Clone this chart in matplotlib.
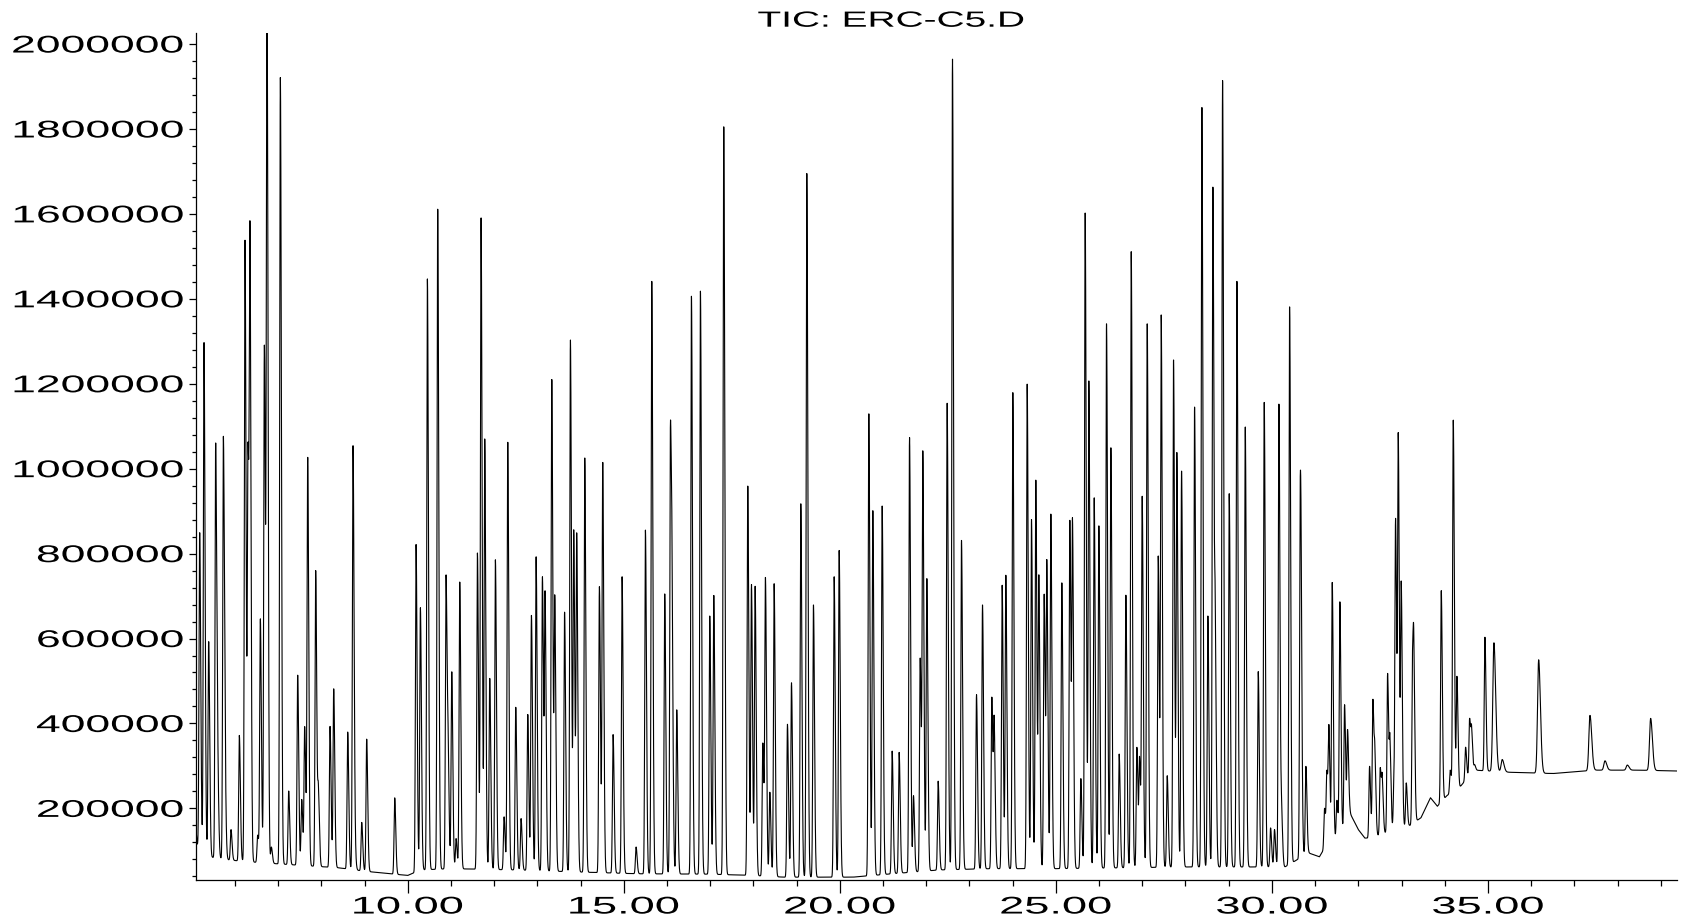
import numpy as np
import matplotlib
matplotlib.use("Agg")
import matplotlib.pyplot as plt
from matplotlib.patheffects import AbstractPathEffect
from matplotlib.transforms import Affine2D

# ---------------- data ----------------
title = "TIC: ERC-C5.D"

# retention time (min) of each peak apex
peak_time = [
    5.185, 5.216, 5.285, 5.393, 5.555, 5.601, 5.733, 5.771, 5.910, 6.103,
    6.234, 6.304, 6.350, 6.527, 6.589, 6.682, 6.743, 6.844, 7.052, 7.245,
    7.453, 7.546, 7.615, 7.685, 7.870, 7.932, 8.202, 8.287, 8.611, 8.734,
    8.780, 8.935, 9.050,
    9.699, 10.193, 10.293, 10.455, 10.694, 10.887, 10.934, 11.019, 11.119, 11.204,
    11.613, 11.697, 11.782, 11.898, 12.029, 12.230, 12.315, 12.500, 12.623, 12.778,
    12.863, 12.971, 13.117, 13.179, 13.334, 13.403, 13.630,
    13.765, 13.842, 13.911, 14.097, 14.436, 14.513, 14.753, 14.961, 15.285, 15.501,
    15.648, 15.948, 16.080, 16.118, 16.226, 16.566, 16.774, 16.990, 17.083, 17.314,
    17.870, 17.955,
    18.040, 18.218, 18.279, 18.380, 18.480, 18.788, 18.881, 19.097, 19.236, 19.390,
    19.869, 19.985, 20.671, 20.764, 20.980, 21.211, 21.373, 21.613, 21.705,
    21.860, 21.921, 22.014, 22.276,
    22.484, 22.607, 22.816, 23.163, 23.302, 23.518, 23.572, 23.757, 23.842, 24.004,
    24.336, 24.436, 24.536, 24.606, 24.729, 24.791, 24.884, 25.138, 25.323, 25.385,
    25.578, 25.678, 25.763, 25.887, 25.995, 26.172, 26.273, 26.465, 26.620,
    26.744, 26.875, 26.937, 26.998, 27.114, 27.369, 27.438, 27.577, 27.723, 27.800,
    27.909, 28.210, 28.379, 28.518, 28.634, 28.688, 28.858, 29.012, 29.190, 29.383,
    29.684, 29.822, 29.969, 30.060, 30.162, 30.223, 30.409, 30.656, 30.680, 30.787,
    31.218, 31.272, 31.319, 31.396, 31.504, 31.573, 31.681, 31.751, 32.260, 32.337,
    32.383, 32.507, 32.553, 32.677, 32.731, 32.823, 32.862, 32.924, 32.993, 33.109,
    33.255, 33.286, 33.919, 34.127, 34.197, 34.282, 34.482, 34.575, 34.621, 34.690,
    34.930, 35.138, 35.330, 36.173, 37.361, 37.708, 38.225, 38.765,
]

# apex abundance of each peak
peak_height = [
    850000, 300000, 1298000, 593000, 1061000, 425000, 1076000, 505000, 150000, 372000,
    1538000, 1063000, 1570000, 137000, 647000, 1291000, 2150000, 109000, 1921000, 241000,
    514000, 221000, 393000, 1028000, 760000, 258000, 393000, 482000, 380000, 1054000,
    245000, 167000, 363000,
    225000, 822000, 673000, 1448000, 1611000, 750000, 399000, 522000, 129000, 733000,
    802000, 1592000, 1070000, 506000, 786000, 180000, 1063000, 438000, 176000, 421000,
    655000, 793000, 746000, 711000, 1210000, 702000, 662000,
    1304000, 856000, 849000, 1026000, 722000, 1016000, 374000, 746000, 109000, 856000,
    1441000, 705000, 1111000, 808000, 432000, 1406000, 1418000, 653000, 702000, 1805000,
    959000, 728000,
    723000, 354000, 744000, 238000, 729000, 398000, 496000, 918000, 1695000, 679000,
    746000, 808000, 1130000, 901000, 912000, 335000, 332000, 1074000, 230000,
    554000, 1042000, 741000, 264000,
    1154000, 1966000, 831000, 468000, 679000, 462000, 416000, 726000, 749000, 1179000,
    1199000, 880000, 973000, 750000, 705000, 785000, 893000, 731000, 879000, 883000,
    270000, 1602000, 1208000, 932000, 866000, 1341000, 1050000, 328000, 702000,
    1511000, 344000, 322000, 935000, 1341000, 795000, 1362000, 277000, 1257000, 1038000,
    995000, 1145000, 1852000, 653000, 1663000, 702000, 1914000, 941000, 1441000, 1099000,
    522000, 1156000, 154000, 150000, 1152000, 225000, 1382000, 982000, 790000, 299000,
    200000, 290000, 396000, 732000, 219000, 687000, 444000, 386000, 299000, 457000,
    348000, 296000, 280000, 518000, 373000, 277000, 883000, 1085000, 735000, 260000,
    577000, 597000, 713000, 290000, 1115000, 511000, 344000, 412000, 395000, 303000,
    603000, 590000, 315000, 550000, 419000, 312000, 302000, 412000,
]

# baseline (time, abundance) read between the peaks
base_time = [5.10, 5.13, 5.20, 5.45, 5.90, 6.60, 7.50, 8.40, 9.00, 9.50, 10.00,
             10.30, 11.00, 12.50, 14.00, 15.30, 17.00, 18.00, 18.70, 19.60, 20.30,
             21.10, 22.30, 23.50, 25.00, 26.50, 28.00, 29.50, 30.30, 30.85, 31.10,
             31.30, 31.60, 31.80, 32.00, 32.15, 32.30, 32.80, 33.20, 33.45, 33.67,
             33.83, 34.05, 34.35, 34.55, 34.70, 35.50, 36.50, 37.50, 38.50, 39.375]
base_value = [150000, 115000, 100000, 85000, 78000, 72000, 66000, 60000, 52000, 47000, 42000,
              55000, 58000, 55000, 50000, 46000, 45000, 42000, 38000, 38000, 38000,
              45000, 55000, 58000, 58000, 60000, 62000, 62000, 62000, 95000, 86000,
              120000, 135000, 190000, 150000, 130000, 130000, 148000, 160000, 178000, 225000,
              205000, 230000, 250000, 275000, 290000, 285000, 282000, 290000, 290000, 288000]

x_ticks = [10, 15, 20, 25, 30, 35]
x_ticklabels = ["10.00", "15.00", "20.00", "25.00", "30.00", "35.00"]
y_ticks = [200000, 400000, 600000, 800000, 1000000, 1200000, 1400000, 1600000, 1800000, 2000000]
y_ticklabels = [str(v) for v in y_ticks]

# ---------------- build trace ----------------
SIG_L, SIG_R = 0.015, 0.024
LATE_T, LATE_WIDEN = 35.0, 1.7
t = np.arange(5.10, 39.375, 0.002)
pt = np.array(peak_time)
ph = np.array(peak_height, dtype=float)
widen = np.where(pt > LATE_T, LATE_WIDEN, 1.0)


def shape(x, c):
    d = x[:, None] - c[None, :]
    s = np.where(d < 0, SIG_L, SIG_R) * widen[None, :]
    return np.exp(-0.5 * (d / s) ** 2)


base_at_peak = np.interp(pt, base_time, base_value)
target = np.maximum(ph - base_at_peak, 1.0)
M = shape(pt, pt)
amp = target.copy()
for _ in range(300):
    cur = M @ amp
    amp *= target / np.maximum(cur, 1e-9)

trace = np.interp(t, base_time, base_value) + shape(t, pt) @ amp


# ---------------- text stretch effect ----------------
class HStretch(AbstractPathEffect):
    def __init__(self, sx, anchor="center"):
        super().__init__()
        self.sx = sx
        self.anchor = anchor

    def draw_path(self, renderer, gc, tpath, affine, rgbFace=None):
        ext = tpath.get_extents()
        if self.anchor == "right":
            x0 = ext.x1
        elif self.anchor == "left":
            x0 = ext.x0
        else:
            x0 = 0.5 * (ext.x0 + ext.x1)
        st = Affine2D().translate(-x0, 0).scale(self.sx, 1).translate(x0, 0)
        renderer.draw_path(gc, tpath, st + affine, rgbFace)


plt.rcParams["font.family"] = ["Liberation Sans", "DejaVu Sans"]

fig = plt.figure(figsize=(16.89, 9.21), dpi=100, facecolor="white")
ax = fig.add_axes([196 / 1689, 1 - 880 / 921, (1677 - 196) / 1689, (880 - 33) / 921])
ax.plot(t, trace, color="black", lw=0.8)
ax.set_xlim(5.10, 39.375)
ax.set_ylim(31300, 2026000)
for s in ["top", "right"]:
    ax.spines[s].set_visible(False)
for s in ["left", "bottom"]:
    ax.spines[s].set_linewidth(0.9)

ax.set_xticks(x_ticks)
ax.set_xticklabels(x_ticklabels)
ax.set_xticks(np.arange(6, 40, 1), minor=True)
ax.set_yticks(y_ticks)
ax.set_yticklabels(y_ticklabels)
ax.set_yticks(np.arange(40000, 2026000, 40000), minor=True)
ax.tick_params(axis="x", which="major", length=9.4, width=0.9, pad=2.5, labelsize=17.4)
ax.tick_params(axis="x", which="minor", length=4.3, width=0.9)
ax.tick_params(axis="y", which="major", length=5, width=0.9, pad=3.8, labelsize=17.4)
ax.tick_params(axis="y", which="minor", length=2.9, width=0.9)

for tk in ax.xaxis.get_major_ticks():
    tk.label1.set_path_effects([HStretch(1.87, "center")])
for tk in ax.yaxis.get_major_ticks():
    tk.label1.set_path_effects([HStretch(1.84, "right")])

fig.text(891 / 1689, 1 - 26.7 / 921, title, ha="center", va="baseline", fontsize=15.8,
         path_effects=[HStretch(1.77, "center")])

fig.savefig("out.png", dpi=100, facecolor="white")
